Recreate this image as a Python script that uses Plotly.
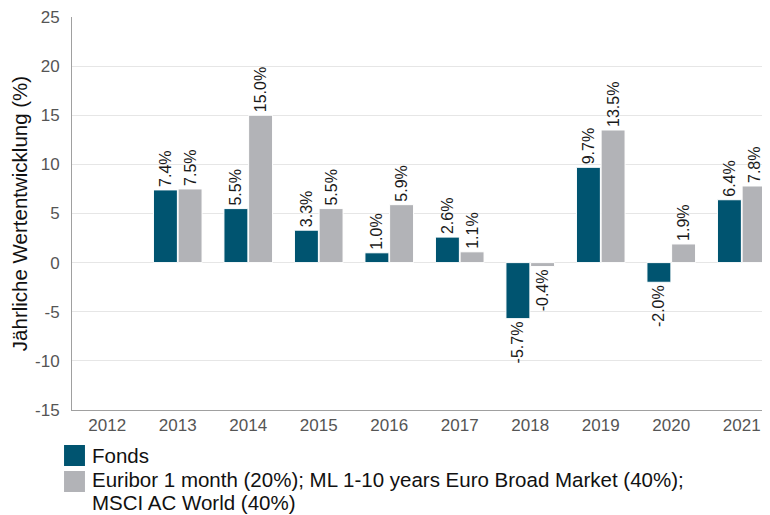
import plotly.graph_objects as go

years = ["2012", "2013", "2014", "2015", "2016", "2017", "2018", "2019", "2020", "2021"]
fonds = [None, 7.4, 5.5, 3.3, 1.0, 2.6, -5.7, 9.7, -2.0, 6.4]
bench = [None, 7.5, 15.0, 5.5, 5.9, 1.1, -0.4, 13.5, 1.9, 7.8]
name_fonds = "Fonds"
name_bench_lines = ["Euribor 1 month (20%); ML 1-10 years Euro Broad Market (40%);", "MSCI AC World (40%)"]
y_ticks = [-15, -10, -5, 0, 5, 10, 15, 20, 25]
y_tick_labels = ["-15", "-10", "-5", "0", "5", "10", "15", "20", "25"]

COL_FONDS = "#005470"
COL_BENCH = "#B2B3B7"
FONT = "Liberation Sans, Arial, sans-serif"


def labels(vals):
    return ["" if v is None else f"{v:.1f}%" for v in vals]


fig = go.Figure()
fig.add_trace(go.Bar(
    x=years, y=fonds, name=name_fonds, marker=dict(color=COL_FONDS, line=dict(color="#ffffff", width=1)),
    text=labels(fonds), textposition="outside", textangle=-90, constraintext="none",
    textfont=dict(size=16, color="#1a1a1a", family=FONT), cliponaxis=False, showlegend=False,
))
fig.add_trace(go.Bar(
    x=years, y=bench, name=" ".join(name_bench_lines), marker=dict(color=COL_BENCH, line=dict(color="#ffffff", width=1)),
    text=labels(bench), textposition="outside", textangle=-90, constraintext="none",
    textfont=dict(size=16, color="#1a1a1a", family=FONT), cliponaxis=False, showlegend=False,
))

# Legend drawn below the plot (swatches + labels)
sw = [(-0.1425, -0.0891, COL_FONDS), (-0.2087, -0.1552, COL_BENCH)]
for y0, y1, c in sw:
    fig.add_shape(type="rect", xref="paper", yref="paper", x0=-0.0113, x1=0.0184, y0=y0, y1=y1,
                  fillcolor=c, line=dict(width=0))
leg_texts = [(name_fonds, -0.117), (name_bench_lines[0], -0.1780), (name_bench_lines[1], -0.2366)]
for txt, yy in leg_texts:
    fig.add_annotation(text=txt, xref="paper", yref="paper", x=0.0255, y=yy, xanchor="left", yanchor="middle",
                       showarrow=False, font=dict(size=20.5, color="#111111", family=FONT))

fig.update_layout(
    width=770, height=515,
    margin=dict(l=64, r=1, t=9, b=113),
    paper_bgcolor="white", plot_bgcolor="white",
    font=dict(family=FONT, size=17, color="#555555"),
    barmode="group", bargap=0.3, bargroupgap=0.03,
    showlegend=False,
    xaxis=dict(type="category", range=[-0.5, 9.5], showline=True, linecolor="#a0a0a0", linewidth=1,
               ticks="", ticklabelstandoff=0, tickfont=dict(size=17, color="#555555"), showgrid=False),
    yaxis=dict(range=[-15, 25], tickvals=y_ticks, ticktext=y_tick_labels, ticklabeloverflow="allow",
               showline=True, linecolor="#a0a0a0", linewidth=1,
               showgrid=True, gridcolor="#e6e6e6", zeroline=True, zerolinecolor="#e6e6e6", zerolinewidth=1,
               ticks="", ticklabelstandoff=8, tickfont=dict(size=17, color="#555555"),
               title=dict(text="Jährliche Wertentwicklung (%)", font=dict(size=20.5, color="#111111"), standoff=8)),
)

fig.write_html("out.html")
